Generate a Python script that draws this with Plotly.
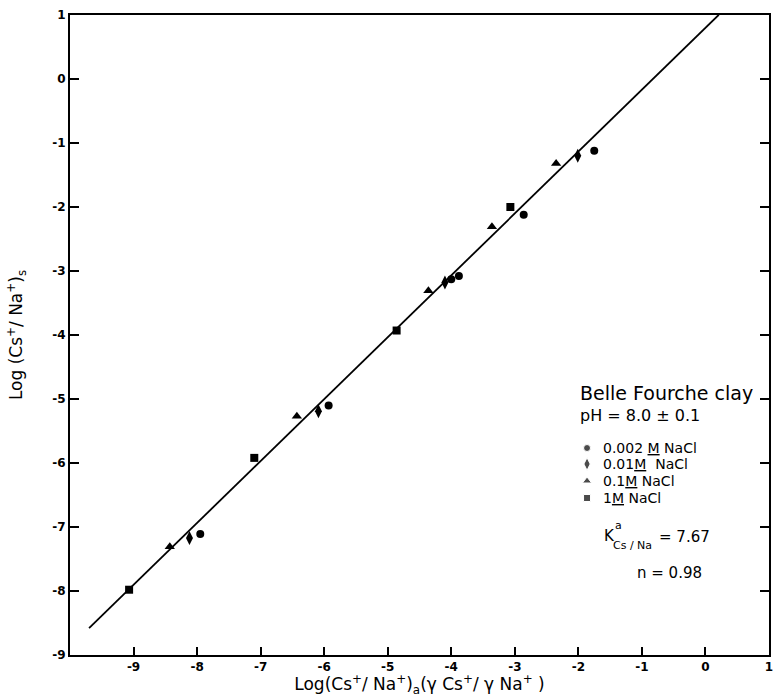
import plotly.graph_objects as go

# ---------------- data ----------------
c0002_x = [-1.75, -2.86, -3.88, -4.00, -5.93, -7.95]
c0002_y = [-1.12, -2.12, -3.08, -3.13, -5.10, -7.11]
c001_x = [-2.01, -4.10, -6.09, -8.12]
c001_y = [-1.20, -3.18, -5.19, -7.17]
c01_x = [-2.35, -3.36, -4.36, -6.43, -8.43]
c01_y = [-1.32, -2.31, -3.31, -5.27, -7.31]
c1_x = [-3.07, -4.86, -7.10, -9.07]
c1_y = [-2.00, -3.93, -5.92, -7.98]

fit_slope = 0.967
fit_intercept = 0.80
fit_x = [-9.70, 0.21]
fit_y = [fit_slope * v + fit_intercept for v in fit_x]

tick_vals = [-9, -8, -7, -6, -5, -4, -3, -2, -1, 0, 1]
tick_text = ["-9", "-8", "-7", "-6", "-5", "-4", "-3", "-2", "-1", "0", "1"]

legend_labels = ["0.002 <u>M</u> NaCl", "0.01<u>M</u>  NaCl", "0.1<u>M</u> NaCl", "1<u>M</u> NaCl"]
legend_symbols = ["circle", "diamond-tall", "triangle-up", "square"]

# ---------------- layout geometry ----------------
W, H = 775, 697
# plot area in window pixels: x 70..773, y 15..655
XL, XR, YT, YB = 70, 773, 15, 655
L, R, T, B = XL, W - XR, YT, H - YB
PW, PH = XR - XL, YB - YT
FONT = "DejaVu Sans"


def px(x):
    return (x - XL) / PW


def py(y):
    return (YB - y) / PH


fig = go.Figure()

fig.add_trace(go.Scatter(x=fit_x, y=fit_y, mode="lines",
                         line=dict(color="black", width=1.8), showlegend=False))

series = [(c0002_x, c0002_y, "circle", 8), (c001_x, c001_y, "diamond-tall", 10),
          (c01_x, c01_y, "triangle-up", 9), (c1_x, c1_y, "square", 8)]
for xs, ys, sym, sz in series:
    fig.add_trace(go.Scatter(x=xs, y=ys, mode="markers",
                             marker=dict(symbol=sym, size=sz, color="black"),
                             showlegend=False))

# legend markers on an overlay axis in window-pixel units
leg_y = [448, 464, 481, 498]
fig.add_trace(go.Scatter(x=[590] * 4, y=leg_y, mode="markers",
                         marker=dict(symbol=legend_symbols, size=[7, 9, 8, 7], color="black"),
                         xaxis="x2", yaxis="y2", showlegend=False))

ann = []


def text(x, y, s, size, xanchor="left"):
    ann.append(dict(x=px(x), y=py(y), xref="paper", yref="paper", text=s,
                    showarrow=False, xanchor=xanchor, yanchor="middle",
                    font=dict(family=FONT, size=size, color="black")))


text(581, 393, "Belle Fourche clay", 19)
text(581, 415, "pH = 8.0 ± 0.1", 16)
for yy, lab in zip(leg_y, legend_labels):
    text(604, yy, lab, 14)
text(605, 536, "K", 15)
text(616, 525, "a", 11)
text(614, 545, "Cs / Na", 11)
text(660, 537, "= 7.67", 15)
text(708, 573, "n = 0.98", 15, xanchor="right")

fig.update_layout(
    width=W, height=H,
    margin=dict(l=L, r=R, t=T, b=B),
    paper_bgcolor="white", plot_bgcolor="white",
    font=dict(family=FONT, color="black"),
    annotations=ann,
    hovermode=False,
    xaxis=dict(range=[-10, 1], tickvals=tick_vals, ticktext=tick_text,
               ticks="inside", ticklen=8, tickwidth=1.5, tickcolor="black",
               showline=True, linewidth=2, linecolor="black", mirror=True,
               showgrid=False, zeroline=False, ticklabeloverflow="allow",
               tickfont=dict(size=12, family=FONT, weight="bold"),
               title=dict(text="Log(Cs<sup>+</sup>/ Na<sup>+</sup>)<sub>a</sub>(γ Cs<sup>+</sup>/ γ Na<sup>+</sup> )",
                          font=dict(size=17, family=FONT), standoff=1)),
    yaxis=dict(range=[-9, 1], tickvals=tick_vals, ticktext=tick_text,
               ticks="inside", ticklen=9, tickwidth=1.5, tickcolor="black",
               showline=True, linewidth=2, linecolor="black", mirror="ticks",
               showgrid=False, zeroline=False, ticklabeloverflow="allow",
               tickfont=dict(size=12, family=FONT, weight="bold"),
               title=dict(text="Log (Cs<sup>+</sup>/ Na<sup>+</sup>)<sub>s</sub>",
                          font=dict(size=17, family=FONT), standoff=25)),
    xaxis2=dict(range=[XL, XR], overlaying="x", anchor="y2", visible=False),
    yaxis2=dict(range=[YB, YT], overlaying="y", anchor="x2", visible=False),
)

# remove the default 8px page margin so the figure sits at the window origin
fig.write_html("out.html", config={"displayModeBar": False},
               post_script="document.body.style.margin='0';document.body.style.overflow='hidden';")
